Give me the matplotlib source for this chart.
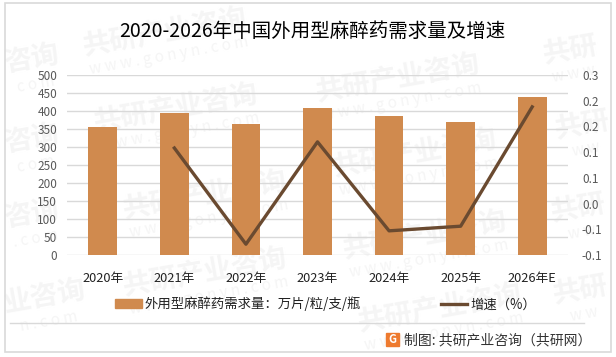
import matplotlib
matplotlib.use("Agg")
import matplotlib.pyplot as plt
from matplotlib.lines import Line2D
from matplotlib.patches import Patch, Rectangle

plt.rcParams["font.family"] = ["Noto Sans CJK SC", "DejaVu Sans"]

years = ["2020年", "2021年", "2022年", "2023年", "2024年", "2025年", "2026年E"]
demand = [356, 394, 364, 408, 386, 369, 439]
growth = [None, 0.108, -0.079, 0.120, -0.053, -0.044, 0.188]
left_ticks = [0, 50, 100, 150, 200, 250, 300, 350, 400, 450, 500]
right_ticks = [-0.1, -0.05, 0, 0.05, 0.1, 0.15, 0.2, 0.25]
# the source rounds these to one decimal, hence the repeats
right_labels = ["-0.1", "-0.1", "0.0", "0.1", "0.1", "0.2", "0.2", "0.3"]

W, H = 616, 357
BAR = "#D08A4E"
LINE = "#6A4A30"
GRID = "#D9D9D9"
MARK = "#F5F5F5"

# watermarks: centre in pixels, text, web line (left/right ones only show part of the name)
marks = [(165, 32, "共研产业咨询", "w w w . g o n y n . c o m"),
         (176, 108, "共研产业咨询", "w w w . g o n y n . c o m"),
         (398, 78, "共研产业咨询", "w w w . g o n y n . c o m"),
         (570, 50, "共研", "w w w"),
         (415, 153, "共研产业咨询", "w w w . g o n y n . c o m"),
         (582, 125, "共研", "w w"),
         (205, 195, "共研产业咨询", "w w w . g o n y n . c o m"),
         (205, 272, "共研产业咨询", "w w w . g o n y n . c o m"),
         (425, 235, "共研产业咨询", "w w w . g o n y n . c o m"),
         (440, 308, "共研产业咨询", "w w w . g o n y n . c o m"),
         (578, 208, "共研", "w w"),
         (580, 290, "共研", "w w"),
         (32, 60, "咨询", "c o m"),
         (32, 140, "咨询", "c o m"),
         (32, 215, "咨询", ". c o m"),
         (45, 298, "业咨询", "n . c o m")]


def fx(px):
    return px / W


def fy(py):
    return 1 - py / H


fig = plt.figure(figsize=(W / 100, H / 100), dpi=100, facecolor="white")

for cx, cy, name, web in marks:
    fig.text(fx(cx), fy(cy), name, fontsize=20, fontweight="bold", color=MARK,
             rotation=10, rotation_mode="anchor", ha="center", va="center", zorder=-2)
    fig.text(fx(cx + 4), fy(cy + 24), web, fontsize=11, color=MARK,
             rotation=10, rotation_mode="anchor", ha="center", va="center", zorder=-2)

fig.add_artist(Rectangle((fx(5), fy(352)), fx(606), 349 / H, fill=False, ec=GRID, lw=1.2))
fig.add_artist(Line2D([fx(10), fx(584)], [fy(323), fy(323)], color=GRID, lw=1))

ax = fig.add_axes([fx(67), fy(255), fx(501), 180 / H])
ax.patch.set_visible(False)
ax.bar(range(len(years)), demand, width=0.4, color=BAR, zorder=2)
ax.set_xlim(-0.5, 6.5)
ax.set_ylim(0, 500)
ax.set_yticks(left_ticks)
ax.set_xticks(range(len(years)))
ax.set_xticklabels(years, fontsize=9.2, color="#222222")
ax.tick_params(axis="x", length=0, pad=12.5)
ax.tick_params(axis="y", length=0, pad=7, labelsize=8.5, labelcolor="#595959")
ax.grid(axis="y", color=GRID, lw=1, zorder=1)
for s in ax.spines.values():
    s.set_visible(False)

ax2 = ax.twinx()
ax2.patch.set_visible(False)
ax2.plot(range(1, len(years)), growth[1:], color=LINE, lw=2.4, zorder=3)
ax2.set_ylim(-0.1, 0.25)
ax2.set_yticks(right_ticks)
ax2.set_yticklabels(right_labels)
ax2.tick_params(axis="y", length=0, pad=10, labelsize=8.5, labelcolor="#595959")
for s in ax2.spines.values():
    s.set_visible(False)

fig.text(fx(312.5), fy(31), "2020-2026年中国外用型麻醉药需求量及增速", fontsize=14, color="black",
         ha="center", va="center")

handles = [Patch(color=BAR, label="外用型麻醉药需求量：万片/粒/支/瓶"),
           Line2D([], [], color=LINE, lw=2.4, label="增速（%）")]
fig.legend(handles=handles, ncol=2, loc="center", bbox_to_anchor=(fx(325.5), fy(304)), frameon=False,
           fontsize=9.6, labelcolor="#222222", columnspacing=6.0, handlelength=2.0, handletextpad=0.2,
           borderpad=0, borderaxespad=0)

# logo and source line
fig.add_artist(Rectangle((fx(386), fy(346)), fx(13), 13 / H, color="#EE7A2E"))
fig.text(fx(392.5), fy(339.5), "G", fontsize=8, fontweight="bold", color="white", ha="center", va="center")
fig.text(fx(404), fy(340), "制图: 共研产业咨询（共研网）", fontsize=10, color="#333333", ha="left", va="center")

fig.savefig("out.png", dpi=100)
